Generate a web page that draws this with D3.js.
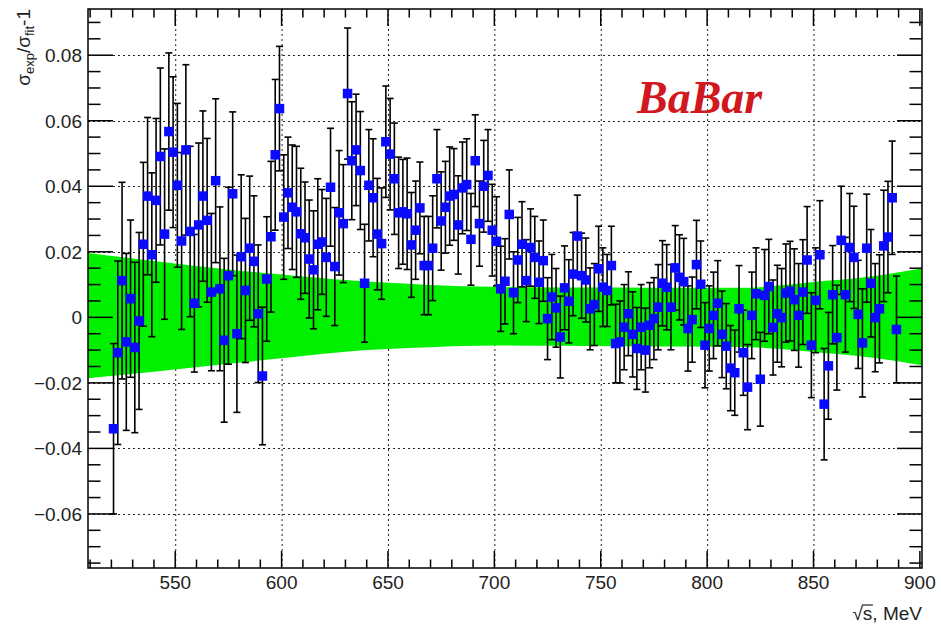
<!DOCTYPE html>
<html><head><meta charset="utf-8">
<script src="https://cdn.jsdelivr.net/npm/d3@7"></script>
<style>body{margin:0;background:#fff}</style>
</head><body><svg id="c" width="941" height="629"></svg>
<script>
const energy = [
521,523,525,527,529,531,533,535,537,539,
541,543,545,547,549,551,553,555,557,559,
561,563,565,567,569,571,573,575,577,579,
581,583,585,587,589,591,593,595,597,599,
601,603,605,607,609,611,613,615,617,619,
621,623,625,627,629,631,633,635,637,639,
641,643,645,647,649,651,653,655,657,659,
661,663,665,667,669,671,673,675,677,679,
681,683,685,687,689,691,693,695,697,699,
701,703,705,707,709,711,713,715,717,719,
721,723,725,727,729,731,733,735,737,739,
741,743,745,747,749,751,753,755,757,759,
761,763,765,767,769,771,773,775,777,779,
781,783,785,787,789,791,793,795,797,799,
801,803,805,807,809,811,813,815,817,819,
821,823,825,827,829,831,833,835,837,839,
841,843,845,847,849,851,853,855,857,859,
861,863,865,867,869,871,873,875,877,879,
881,883,885,887,889];
const ratio = [
-0.0340,-0.0108,0.0112,-0.0075,0.0057,-0.0092,-0.0011,0.0223,0.0370,0.0191,
0.0357,0.0491,0.0254,0.0567,0.0504,0.0403,0.0233,0.0511,0.0262,0.0043,
0.0282,0.0370,0.0296,0.0077,0.0417,0.0087,-0.0070,0.0127,0.0377,-0.0050,
0.0185,0.0082,0.0211,0.0171,0.0011,-0.0179,0.0117,0.0246,0.0496,0.0637,
0.0306,0.0380,0.0336,0.0322,0.0255,0.0243,0.0178,0.0145,0.0223,0.0230,
0.0183,0.0397,0.0155,0.0319,0.0286,0.0683,0.0478,0.0511,0.0448,0.0104,
0.0403,0.0365,0.0254,0.0225,0.0536,0.0498,0.0423,0.0319,0.0322,0.0316,
0.0221,0.0266,0.0334,0.0158,0.0158,0.0211,0.0423,0.0294,0.0336,0.0370,
0.0375,0.0282,0.0395,0.0405,0.0238,0.0478,0.0286,0.0400,0.0433,0.0266,0.0232,
0.0087,0.0110,0.0314,0.0075,0.0175,0.0223,0.0112,0.0213,0.0183,0.0107,
0.0173,-0.0004,0.0062,0.0029,-0.0060,0.0090,0.0049,0.0132,0.0248,0.0127,
0.0114,0.0026,0.0039,0.0148,0.0092,0.0082,0.0158,-0.0080,-0.0075,
-0.0030,0.0011,-0.0052,-0.0095,-0.0030,-0.0100,-0.0024,-0.0004,0.0031,0.0104,
0.0092,0.0031,0.0151,0.0122,0.0109,-0.0034,-0.0007,0.0161,0.0101,-0.0085,
-0.0034,0.0006,0.0043,-0.0052,-0.0088,-0.0155,-0.0169,0.0026,-0.0108,-0.0213,
0.0006,0.0072,
-0.0189,0.0067,0.0094,-0.0031,0.0011,-0.0001,0.0074,0.0080,0.0054,0.0006,
0.0077,0.0175,-0.0085,0.0052,0.0191,-0.0265,-0.0148,0.0069,-0.0062,0.0235,
0.0069,0.0213,0.0183,0.0009,-0.0078,0.0211,0.0104,-0.0001,0.0026,0.0218,
0.0245,0.0365,-0.0037];
const ratioErr = [
0.026,0.028,0.030,0.027,0.024,0.026,0.027,0.025,0.024,0.025,
0.025,0.027,0.026,0.024,0.023,0.025,0.027,0.026,0.026,0.021,
0.025,0.026,0.025,0.024,0.025,0.025,0.025,0.027,0.025,0.024,
0.025,0.022,0.022,0.020,0.021,0.021,0.019,0.023,0.023,0.019,
0.019,0.017,0.019,0.020,0.020,0.017,0.018,0.018,0.020,0.016,
0.018,0.018,0.018,0.019,0.018,0.020,0.018,0.017,0.018,0.018,
0.017,0.018,0.017,0.017,0.017,0.017,0.017,0.017,0.016,0.017,
0.016,0.015,0.014,0.015,0.015,0.016,0.015,0.015,0.014,0.015,
0.014,0.015,0.014,0.014,0.014,0.014,0.013,0.014,0.014,0.014,
0.0136,0.0130,0.0130,0.0136,0.0125,0.0130,0.0130,0.0125,0.0118,0.0125,
0.0126,0.0124,0.0125,0.0130,0.0120,0.0125,0.0128,0.0127,0.0127,0.0125,
0.0130,0.0128,0.0125,0.0125,0.0130,0.0120,0.0110,0.0120,0.0120,0.0125,
0.0130,0.0128,0.0130,0.0125,0.0130,0.0128,0.0130,0.0125,0.0130,0.0130,
0.0130,0.0130,0.0129,0.0130,0.0132,0.0130,0.0130,0.0135,0.0132,0.0130,
0.0130,0.0132,0.0130,0.0132,0.0130,0.0130,0.0130,0.0132,0.0130,0.0130,
0.0132,0.0140,0.0143,0.0140,0.0144,0.0145,0.0148,0.0150,0.0150,0.0152,
0.0155,0.0158,0.0160,0.0163,0.0160,0.0160,0.0165,0.0170,0.0163,0.0150,
0.0160,0.0165,0.0175,0.0165,0.0156,0.0165,0.0165,0.0165,0.0164,0.0165,
0.0165,0.0170,0.0170,0.0173,0.0163];
const bandEnergy = [509,540,575,610,640,670,700,730,760,790,820,835,850,875,901];
const bandUpper  = [0.0196,0.0172,0.0146,0.0125,0.0109,0.0099,0.0093,0.0091,0.0091,0.0090,0.0090,0.0098,0.0108,0.0123,0.0150];
const bandLower  = [-0.0186,-0.0166,-0.0142,-0.0118,-0.0100,-0.0091,-0.0086,-0.0087,-0.0088,-0.0089,-0.0091,-0.0097,-0.0106,-0.0121,-0.0146];
const xTicks = [550,600,650,700,750,800,850,900];
const yTicks = [-0.06,-0.04,-0.02,0,0.02,0.04,0.06,0.08];

const svg = d3.select('#c');
const L=88,R=922,T=9,B=568;
const x = d3.scaleLinear().domain([509,901]).range([L,R]);
const y = d3.scaleLinear().domain([-0.0765,0.0941]).range([B,T]);
const FONT = '"Liberation Sans", Arial, sans-serif';

svg.append('rect').attr('width',941).attr('height',629).attr('fill','#fff');

// grid
const grid = svg.append('g').attr('stroke','#222').attr('stroke-width',1).attr('stroke-dasharray','2,3');
grid.selectAll('.gx').data(xTicks.filter(d=>d<900)).join('line')
  .attr('x1',d=>x(d)+0.5).attr('x2',d=>x(d)+0.5).attr('y1',T).attr('y2',B);
grid.selectAll('.gy').data(yTicks).join('line')
  .attr('x1',L).attr('x2',R).attr('y1',d=>Math.round(y(d))+0.5).attr('y2',d=>Math.round(y(d))+0.5);

// band
const bandData = bandEnergy.map((e,i)=>({e,u:bandUpper[i],l:bandLower[i]}));
svg.append('path').datum(bandData)
  .attr('fill','#00f000')
  .attr('d', d3.area().x(d=>x(d.e)).y0(d=>y(d.l)).y1(d=>y(d.u)).curve(d3.curveMonotoneX));

// error bars
const pts = energy.map((e,i)=>({e,v:ratio[i],s:ratioErr[i]}));
const eb = svg.append('g').attr('stroke','#000').attr('stroke-width',1.6);
eb.selectAll('.v').data(pts).join('line')
  .attr('x1',d=>x(d.e)).attr('x2',d=>x(d.e)).attr('y1',d=>y(d.v+d.s)).attr('y2',d=>y(d.v-d.s));
eb.selectAll('.t').data(pts).join('line')
  .attr('x1',d=>x(d.e)-3.5).attr('x2',d=>x(d.e)+3.5).attr('y1',d=>y(d.v+d.s)).attr('y2',d=>y(d.v+d.s));
eb.selectAll('.b').data(pts).join('line')
  .attr('x1',d=>x(d.e)-3.5).attr('x2',d=>x(d.e)+3.5).attr('y1',d=>y(d.v-d.s)).attr('y2',d=>y(d.v-d.s));

// markers
const M=9.5;
svg.append('g').selectAll('rect').data(pts).join('rect')
  .attr('x',d=>x(d.e)-M/2).attr('y',d=>y(d.v)-M/2).attr('width',M).attr('height',M)
  .attr('fill','#0a0aff');

// axes
const ax = svg.append('g').attr('stroke','#000').attr('stroke-width',1.5).attr('fill','none');
ax.append('rect').attr('x',L).attr('y',T).attr('width',R-L).attr('height',B-T);
const xMinor = d3.range(510,901,10);
const yMinor = d3.range(-0.075,0.0941,0.005);
ax.selectAll('.xb').data(xMinor).join('line')
  .attr('x1',d=>x(d)).attr('x2',d=>x(d)).attr('y1',B).attr('y2',d=>B-(d%50===0?17:8.5));
ax.selectAll('.xt').data(xMinor).join('line')
  .attr('x1',d=>x(d)).attr('x2',d=>x(d)).attr('y1',T).attr('y2',d=>T+(d%50===0?17:8.5));
const isMajY = d=>Math.abs(Math.round(d*50)-d*50)<1e-6;
ax.selectAll('.yl').data(yMinor).join('line')
  .attr('y1',d=>y(d)).attr('y2',d=>y(d)).attr('x1',L).attr('x2',d=>L+(isMajY(d)?25:12.5));
ax.selectAll('.yr').data(yMinor).join('line')
  .attr('y1',d=>y(d)).attr('y2',d=>y(d)).attr('x1',R).attr('x2',d=>R-(isMajY(d)?25:12.5));

// tick labels
svg.append('g').selectAll('text').data(xTicks).join('text')
  .attr('x',d=>x(d)).attr('y',589).attr('text-anchor','middle')
  .attr('font-family',FONT).attr('font-size',19).attr('fill','#222').text(d=>d);
svg.append('g').selectAll('text').data(yTicks).join('text')
  .attr('x',82).attr('y',d=>y(d)+7).attr('text-anchor','end')
  .attr('font-family',FONT).attr('font-size',19).attr('fill','#222')
  .text(d=>d===0?'0':(d<0?'\u2212':'')+Math.abs(d).toFixed(2));

// axis titles
const xt = svg.append('text').attr('x',922).attr('y',620).attr('text-anchor','end')
  .attr('font-family',FONT).attr('font-size',19).attr('fill','#222').text('\u221As, MeV');
{
  const n = xt.node();
  const r0 = n.getExtentOfChar(0), r1 = n.getExtentOfChar(1);
  svg.append('line').attr('x1',r0.x+r0.width-1).attr('x2',r1.x+r1.width+0.5)
    .attr('y1',r0.y+2).attr('y2',r0.y+2).attr('stroke','#222').attr('stroke-width',1.2);
}
const yt = svg.append('text').attr('transform','translate(30,9) rotate(-90)').attr('text-anchor','end')
  .attr('font-family',FONT).attr('font-size',19).attr('fill','#222');
yt.append('tspan').text('\u03C3');
yt.append('tspan').attr('font-size',13).attr('dy',4).text('exp');
yt.append('tspan').attr('dy',-4).text('/\u03C3');
yt.append('tspan').attr('font-size',13).attr('dy',4).text('fit');
yt.append('tspan').attr('dy',-4).text('-1');

// label
svg.append('text').attr('x',637).attr('y',113)
  .attr('font-family','"Liberation Serif", "Times New Roman", serif')
  .attr('font-weight','bold').attr('font-style','italic').attr('font-size',46)
  .attr('fill','#d0181e').text('BaBar');
</script></body></html>
